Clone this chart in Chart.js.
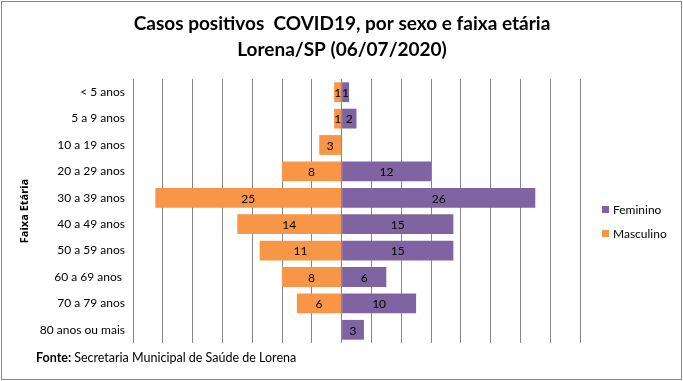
<!DOCTYPE html>
<html>
<head>
<meta charset="utf-8">
<script src="https://cdn.jsdelivr.net/npm/chart.js@4.4.1/dist/chart.umd.min.js"></script>
<style>
html,body{margin:0;padding:0;background:#fff;}
#wrap{width:683px;height:381px;position:relative;}
</style>
</head>
<body>
<div id="wrap"><canvas id="c" width="683" height="381"></canvas></div>
<script>
const categories = ['< 5 anos','5 a 9 anos','10 a 19 anos','20 a 29 anos','30 a 39 anos','40 a 49 anos','50 a 59 anos','60 a 69 anos ','70 a 79 anos','80 anos ou mais'];
const feminino = [1, 2, 0, 12, 26, 15, 15, 6, 10, 3];
const masculino = [1, 1, 3, 8, 25, 14, 11, 8, 6, 0];
const titleLines = ['Casos positivos  COVID19, por sexo e faixa etária', 'Lorena/SP (06/07/2020)'];
const axisTitle = 'Faixa Etária';
const sourceLabel = 'Fonte:';
const sourceText = 'Secretaria Municipal de Saúde de Lorena';

const FONT = 'Lato, "Open Sans", sans-serif';
const colors = {fem: '#8064A2', masc: '#F79646', grid: '#868686'};

const extras = {
  id: 'extras',
  afterDatasetsDraw(chart) {
    const ctx = chart.ctx;
    ctx.save();
    ctx.font = '12px ' + FONT;
    ctx.fillStyle = '#000';
    ctx.textAlign = 'center';
    ctx.textBaseline = 'middle';
    chart.data.datasets.forEach((ds, di) => {
      const meta = chart.getDatasetMeta(di);
      meta.data.forEach((el, i) => {
        const v = Math.abs(ds.data[i]);
        if (!v) return;
        const p = el.getProps(['x','y','base'], true);
        ctx.fillText(String(v), (p.x + p.base) / 2, p.y + 1);
      });
    });
    ctx.restore();
  },
  afterDraw(chart) {
    const ctx = chart.ctx;
    ctx.save();
    // border
    ctx.strokeStyle = '#8a8a8a';
    ctx.lineWidth = 1;
    ctx.strokeRect(1.5, 1.5, 680, 378);
    // title
    ctx.fillStyle = '#000';
    ctx.textAlign = 'center';
    ctx.textBaseline = 'middle';
    ctx.font = 'bold 19px ' + FONT;
    ctx.fillText(titleLines[0], 342, 24);
    ctx.fillText(titleLines[1], 342, 50);
    // legend
    const items = [{t: chart.data.datasets[0].label, c: colors.fem, y: 210}, {t: chart.data.datasets[1].label, c: colors.masc, y: 234}];
    ctx.font = '12px ' + FONT;
    ctx.textAlign = 'left';
    items.forEach(it => {
      ctx.fillStyle = it.c;
      ctx.fillRect(602, it.y - 4, 7, 7);
      ctx.fillStyle = '#000';
      ctx.fillText(it.t, 613, it.y);
    });
    // source
    ctx.font = 'bold 12.5px ' + FONT;
    ctx.fillText(sourceLabel, 36, 358);
    const w = ctx.measureText(sourceLabel + ' ').width;
    ctx.font = '12.5px ' + FONT;
    ctx.fillText(sourceText, 36 + w, 358);
    ctx.restore();
  }
};

new Chart(document.getElementById('c'), {
  type: 'bar',
  data: {
    labels: categories,
    datasets: [
      {label: 'Feminino', data: feminino, backgroundColor: colors.fem, barPercentage: 0.75, categoryPercentage: 1},
      {label: 'Masculino', data: masculino.map(v => -v), backgroundColor: colors.masc, barPercentage: 0.75, categoryPercentage: 1}
    ]
  },
  options: {
    indexAxis: 'y',
    responsive: false,
    animation: false,
    layout: {padding: {top: 79, bottom: 38, left: 0, right: 103}},
    plugins: {
      legend: {display: false},
      tooltip: {enabled: false},
      title: {display: false}
    },
    scales: {
      x: {
        stacked: true,
        min: -28, max: 32,
        ticks: {display: false, stepSize: 4},
        grid: {color: colors.grid, drawTicks: false},
        border: {display: false}
      },
      y: {
        stacked: true,
        afterFit(scale) { scale.width = 133; },
        ticks: {color: '#000', padding: 8, font: {family: FONT, size: 12}},
        grid: {display: false, drawTicks: false},
        border: {display: false},
        title: {display: true, text: axisTitle, color: '#000', font: {family: '"Open Sans", sans-serif', size: 11, weight: 'bold'}, padding: {top: 18, bottom: 0}}
      }
    }
  },
  plugins: [extras]
});
</script>
</body>
</html>
